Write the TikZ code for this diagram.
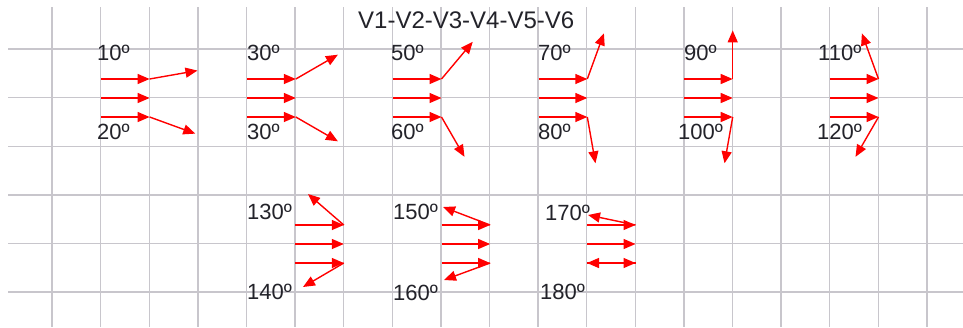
\documentclass[tikz,border=0pt]{standalone}
\usepackage{fontspec}
\setmainfont{Liberation Sans}
\usetikzlibrary{arrows.meta,calc}
\definecolor{gridgray}{RGB}{200,198,204}
\definecolor{arrred}{RGB}{255,0,0}
\definecolor{txtdark}{RGB}{35,35,42}
\tikzset{
  gridline/.style={draw=gridgray,line width=1.4pt},
  vec/.style={draw=arrred,line width=1.4pt,-{Triangle[length=12pt,width=10pt]}},
  lbl/.style={anchor=base west,inner sep=0pt,text=txtdark,font=\fontsize{22}{26}\selectfont},
  ttl/.style={anchor=base west,inner sep=0pt,text=txtdark,font=\fontsize{24}{28}\selectfont}
}
\begin{document}
\begin{tikzpicture}[x=1pt,y=-1pt]
\useasboundingbox (0,0) rectangle (963,327);
\fill[white] (0,0) rectangle (963,327);
% grid
\foreach \k in {0,...,18} {\draw[gridline] ({52+48.61*\k},7) -- ({52+48.61*\k},327);}
\foreach \j in {0,...,5} {\draw[gridline] (8,{49+48.6*\j}) -- (963,{49+48.6*\j});}
% title
\node[ttl] (title) at (358,28) {V1-V2-V3-V4-V5-V6};
% group definitions: start x, end x, centre y
\foreach \g/\s/\e/\c in {a/101.0/149.6/98, b/247.2/295.8/98, c/392.9/441.5/98, d/538.7/587.3/98, e/684.1/732.7/98, f/829.9/878.5/98, g/295.2/343.8/244, h/441.5/490.1/244, i/586.9/635.5/244} {
  \coordinate (\g Ts) at (\s,\c-19);
  \coordinate (\g Ms) at (\s,\c);
  \coordinate (\g Bs) at (\s,\c+19);
  \coordinate (\g T) at (\e,\c-19);
  \coordinate (\g M) at (\e,\c);
  \coordinate (\g B) at (\e,\c+19);
  \draw[vec] (\g Ts) -- (\g T);
  \draw[vec] (\g Ms) -- (\g M);
  \draw[vec] (\g Bs) -- (\g B);
}
% angled end points, row 1
\coordinate (aTe) at ($(aT)+(10:48.6pt)$);
\coordinate (aBe) at ($(aB)+(-20:48.6pt)$);
\coordinate (bTe) at ($(bT)+(30:48.6pt)$);
\coordinate (bBe) at ($(bB)+(-30:48.6pt)$);
\coordinate (cTe) at ($(cT)+(50:48.6pt)$);
\coordinate (cBe) at ($(cB)+(-60:46pt)$);
\coordinate (dTe) at ($(dT)+(70:48.6pt)$);
\coordinate (dBe) at ($(dB)+(-80:47pt)$);
\coordinate (eTe) at ($(eT)+(90:48.6pt)$);
\coordinate (eBe) at ($(eB)+(-100:47pt)$);
\coordinate (fTe) at ($(fT)+(110:48.6pt)$);
\coordinate (fBe) at ($(fB)+(-120:46pt)$);
% row 2
\coordinate (gTe) at (308,194);
\coordinate (gBe) at (303,287);
\coordinate (hTe) at (443,207);
\coordinate (hBe) at (444,280);
\coordinate (iTe) at (588,215);
\coordinate (iBe) at (587,263);
\foreach \g in {a,b,c,d,e,f,g,h,i} {
  \draw[vec] (\g T) -- (\g Te);
  \draw[vec] (\g B) -- (\g Be);
}
% labels
\node[lbl] (la1) at (97,60) {10º};
\node[lbl] (la2) at (97,139) {20º};
\node[lbl] (lb1) at (247,60) {30º};
\node[lbl] (lb2) at (247,139) {30º};
\node[lbl] (lc1) at (391,60) {50º};
\node[lbl] (lc2) at (391,139) {60º};
\node[lbl] (ld1) at (538,60) {70º};
\node[lbl] (ld2) at (538,139) {80º};
\node[lbl] (le1) at (684,60) {90º};
\node[lbl] (le2) at (678,139) {100º};
\node[lbl] (lf1) at (818,60) {110º};
\node[lbl] (lf2) at (817,139) {120º};
\node[lbl] (lg1) at (247,219) {130º};
\node[lbl] (lg2) at (247,299) {140º};
\node[lbl] (lh1) at (393,219) {150º};
\node[lbl] (lh2) at (393,300) {160º};
\node[lbl] (li1) at (545,220) {170º};
\node[lbl] (li2) at (540,299) {180º};
\end{tikzpicture}
\end{document}
